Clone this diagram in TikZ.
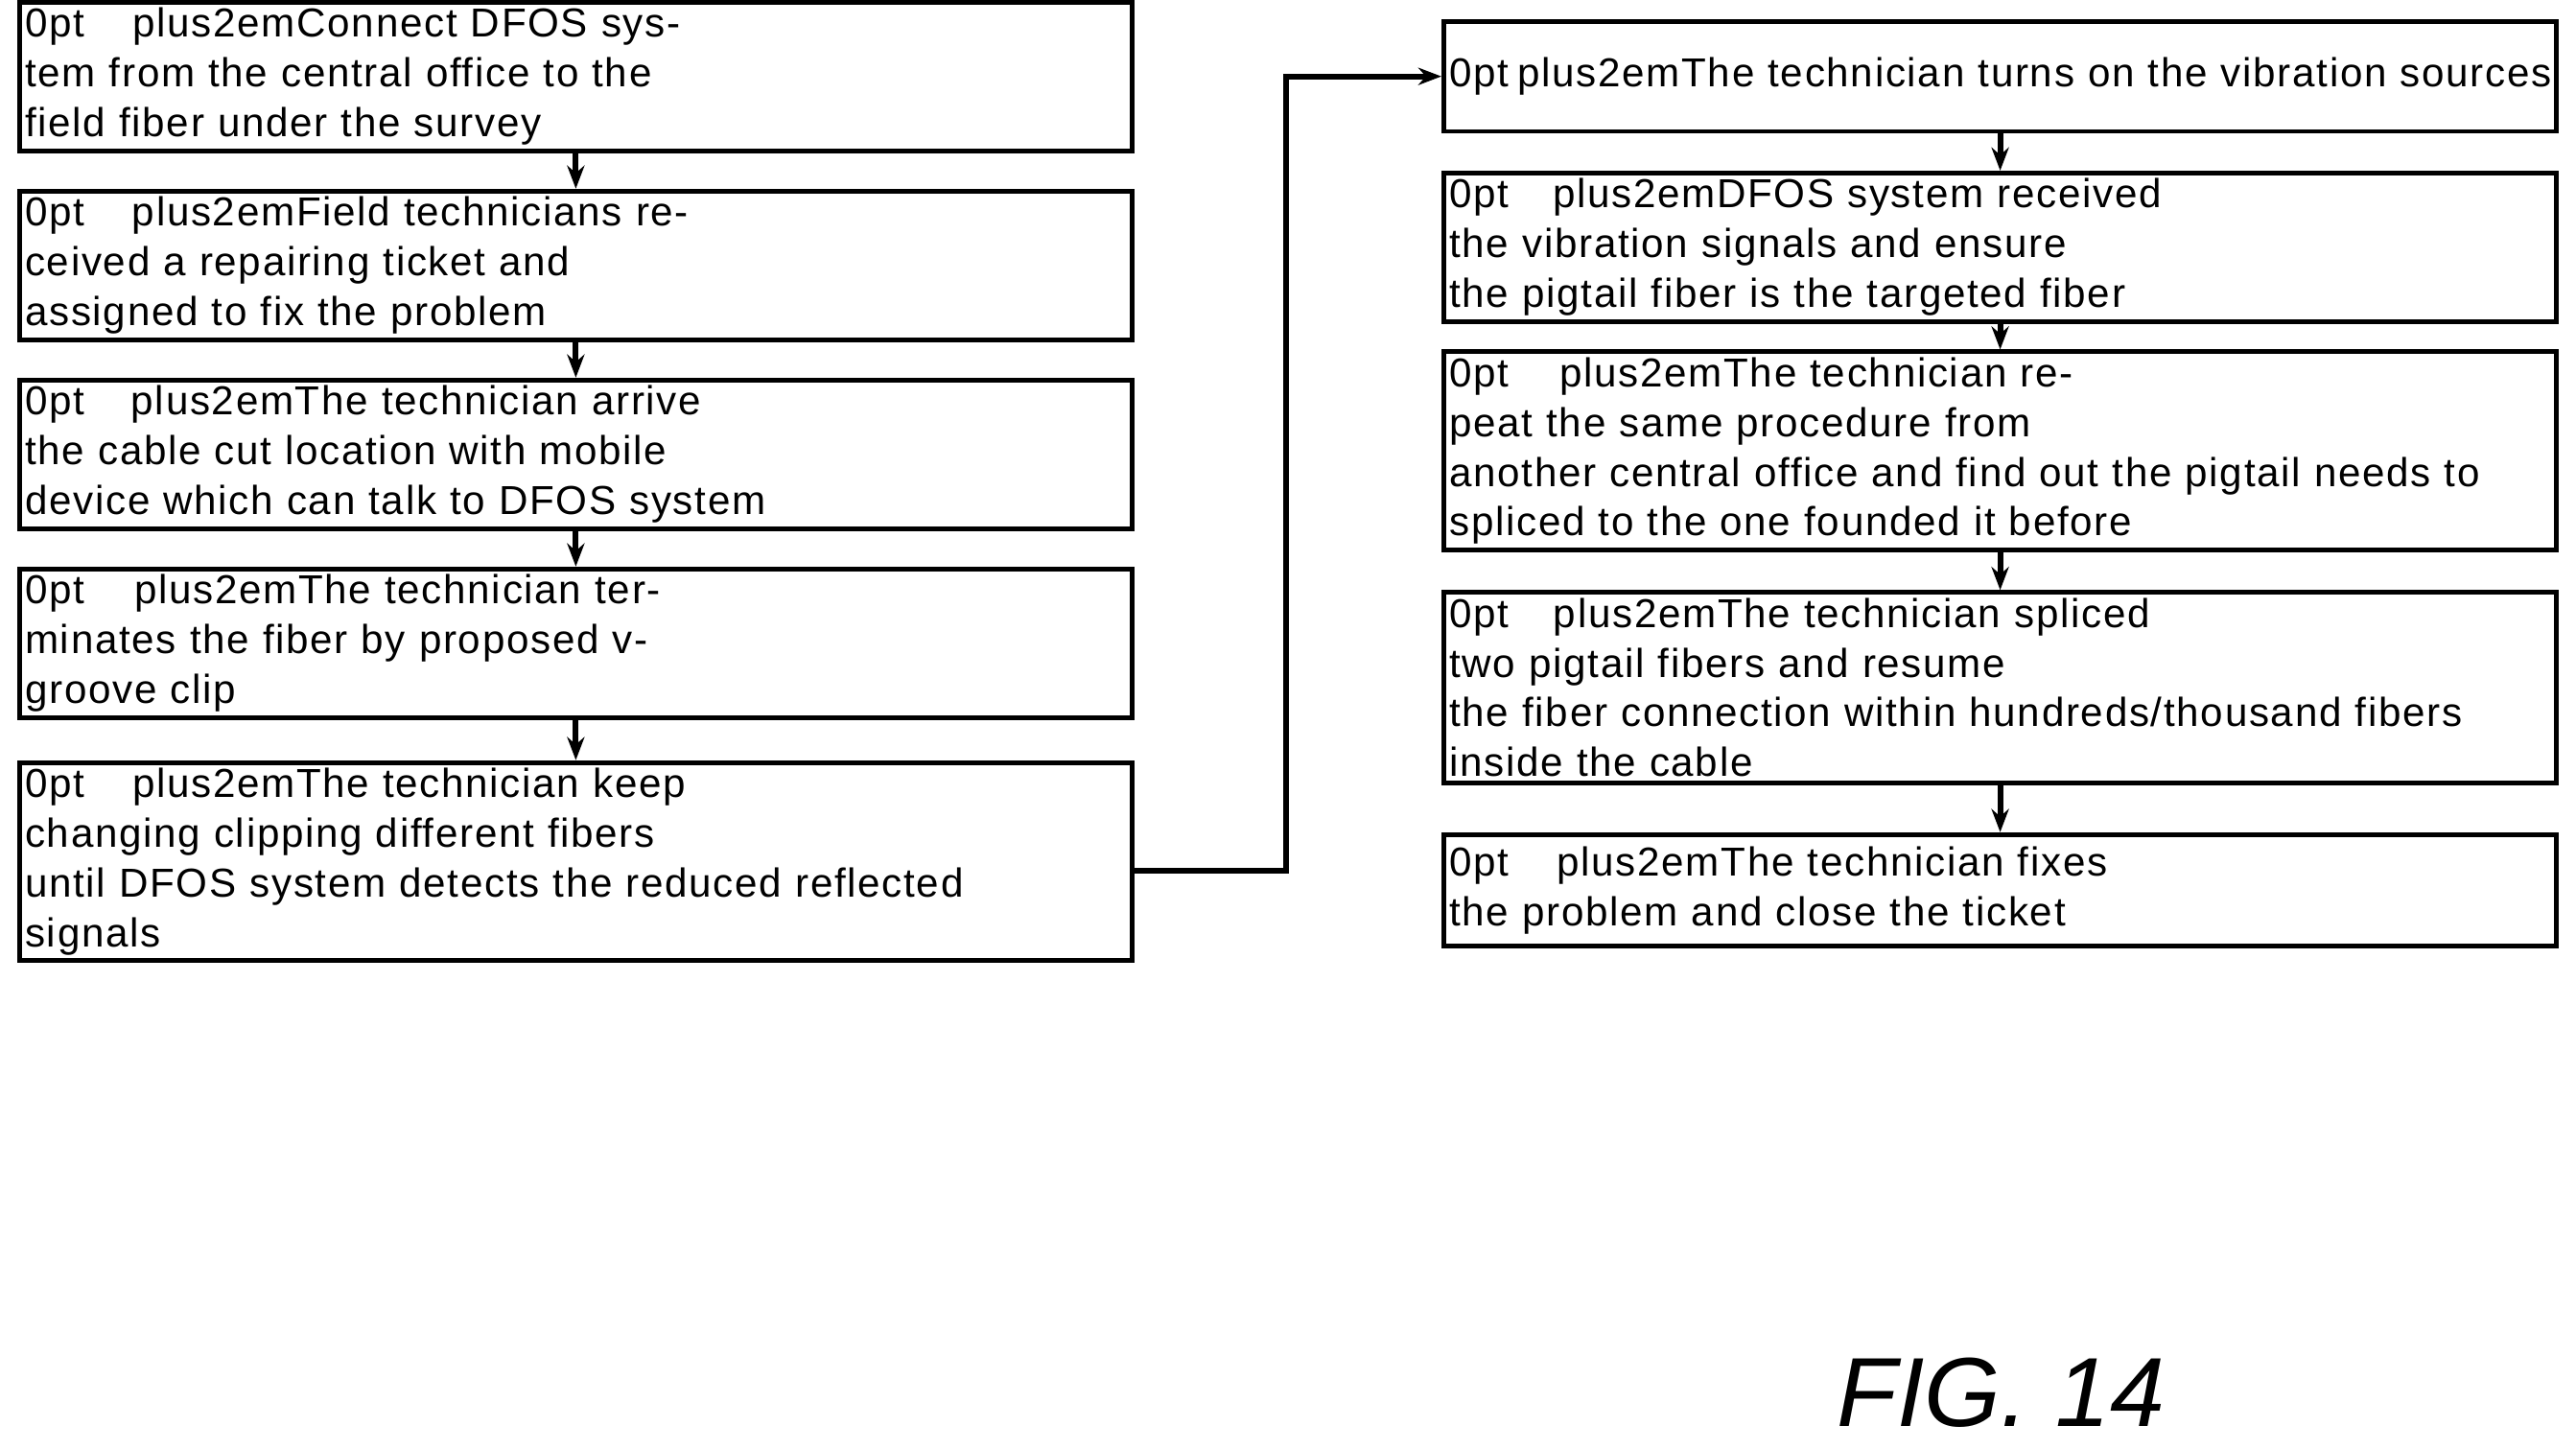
\documentclass[tikz,border=0pt]{standalone}
\usepackage{fontspec}
\setmainfont[LetterSpace=4]{Liberation Sans}
\setsansfont{Liberation Sans}
\usetikzlibrary{arrows.meta}
\begin{document}
\begin{tikzpicture}[x=0.01cm,y=-0.01cm,
  box/.style={draw,line width=0.8pt,minimum width=6.75cm,text width=6.7cm,align=center,inner sep=1pt,font=\fontsize{7}{8.6}\selectfont\hyphenpenalty=10000\exhyphenpenalty=10000},
  arr/.style={-{Stealth[length=4pt]},line width=1pt}]
\useasboundingbox (0,0) rectangle (1568,881.5);
\node[box,minimum height=0.67cm] (a1) at (350.5,46.5) {Connect DFOS system from the central office to the\\ field fiber under the survey};
\node[box,minimum height=0.67cm] (a2) at (350.5,161.5) {Field technicians received a repairing ticket and\\ assigned to fix the problem};
\node[box,minimum height=0.67cm] (a3) at (350.5,276.5) {The technician arrive the cable cut location with mobile\\ device which can talk to DFOS system};
\node[box,minimum height=0.67cm] (a4) at (350.5,391.5) {The technician terminates the fiber by proposed v-\\ groove clip};
\node[box,minimum height=1.03cm] (a5) at (350.5,524.5) {The technician keep changing clipping different fibers\\ until DFOS system detects the reduced reflected\\ signals};
\node[box,minimum height=0.67cm] (b1) at (1217.5,46.5) {The technician turns on the vibration sources};
\node[box,minimum height=0.67cm] (b2) at (1217.5,150.5) {DFOS system received the vibration signals and ensure\\ the pigtail fiber is the targeted fiber};
\node[box,minimum height=1.07cm] (b3) at (1217.5,274.5) {The technician repeat the same procedure from\\ another central office and find out the pigtail needs to\\ spliced to the one founded it before};
\node[box,minimum height=1.07cm] (b4) at (1217.5,418.5) {The technician spliced two pigtail fibers and resume\\ the fiber connection within hundreds/thousand fibers\\ inside the cable};
\node[box,minimum height=0.68cm] (b5) at (1217.5,542) {The technician fixes the problem and close the ticket};
\foreach \u/\v in {a1/a2,a2/a3,a3/a4,a4/a5,b1/b2,b2/b3,b3/b4,b4/b5}
  \draw[arr] (\u.south) -- (\v.north);
\coordinate (c1) at (783,530);
\coordinate (c2) at (783,46.5);
\draw[arr] (a5.east |- c1) -- (c1) -- (c2) -- (b1.west);
\node[font=\sffamily\itshape\fontsize{17}{20}\selectfont] (fig) at (1218,848) {FIG. 14};
\end{tikzpicture}
\end{document}
